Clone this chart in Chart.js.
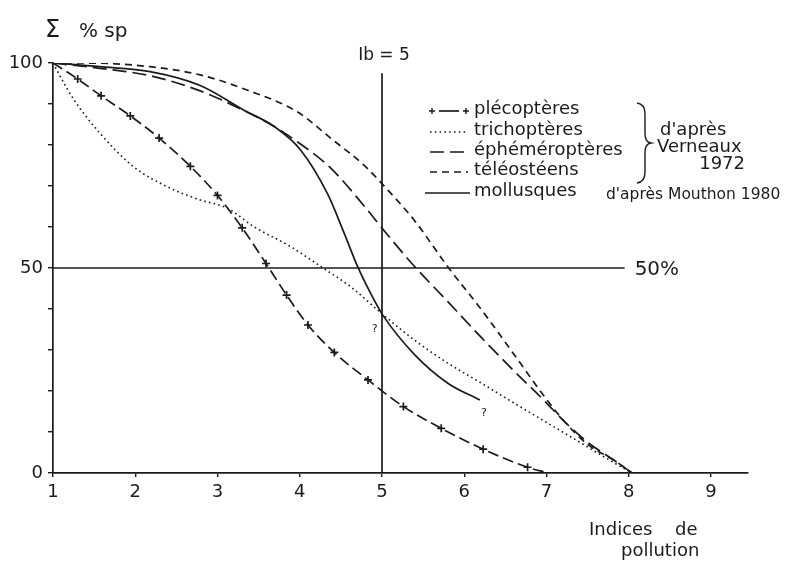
<!DOCTYPE html>
<html><head><meta charset="utf-8">
<script src="https://cdn.jsdelivr.net/npm/chart.js@4.4.1/dist/chart.umd.min.js"></script>
<style>html,body{margin:0;padding:0;background:#fff}#wrap{width:787px;height:561px;position:relative}</style>
</head><body><div id="wrap"><canvas id="c"></canvas></div>
<script>
// ---- data ----
const xTickValues = [1, 2, 3, 4, 5, 6, 7, 8, 9];
const yTickValues = [0, 10, 20, 30, 40, 50, 60, 70, 80, 90, 100];
const yLabelValues = [0, 50, 100];
const seriesNames = ['plécoptères', 'trichoptères', 'éphéméroptères', 'téléostéens', 'mollusques'];

const plecX = [1, 1.30, 1.585, 1.94, 2.29, 2.67, 3.00, 3.30, 3.59, 3.84, 4.10, 4.42, 4.83, 5.26, 5.72, 6.23, 6.77, 7.02];
const plecY = [100, 96.1, 92.0, 87.1, 81.7, 74.8, 67.7, 59.8, 51.1, 43.4, 36.1, 29.4, 22.7, 16.2, 10.9, 5.8, 1.4, 0];

const trichX = [1, 1.23, 1.57, 1.98, 2.39, 2.79, 3.12, 3.44, 3.89, 4.26, 4.62, 4.99, 5.39, 5.80, 6.21, 6.61, 7.02, 7.43, 7.83, 8.04];
const trichY = [100, 91.8, 82.9, 74.7, 69.8, 66.6, 64.6, 60.1, 55.2, 50.3, 45.4, 39.0, 32.5, 26.8, 21.9, 17.0, 12.1, 7.2, 2.4, 0];

const ephemX = [1, 1.57, 2.18, 2.79, 3.30, 3.69, 3.97, 4.38, 4.78, 5.03, 5.39, 5.80, 6.21, 6.61, 6.98, 7.22, 7.50, 7.83, 8.04];
const ephemY = [100, 98.7, 96.9, 93.2, 88.6, 84.5, 80.8, 74.3, 65.2, 59.0, 50.5, 41.8, 33.0, 24.8, 17.5, 12.5, 7.5, 3.0, 0];

const teleoX = [1, 1.37, 2.18, 2.79, 3.36, 3.97, 4.38, 4.78, 5.03, 5.39, 5.80, 6.21, 6.61, 6.98, 7.22, 7.50, 7.83, 8.04];
const teleoY = [100, 100, 99.1, 97.1, 93.4, 88.1, 81.6, 75.1, 69.9, 61.7, 50.3, 39.8, 28.8, 18.5, 12.5, 7.0, 3.0, 0];

const mollX = [1, 1.57, 2.18, 2.79, 3.32, 3.69, 4.01, 4.34, 4.54, 4.70, 4.87, 5.01, 5.39, 5.80, 6.19];
const mollY = [100, 99.1, 97.9, 94.5, 88.5, 84.5, 78.8, 68.0, 58.5, 50.5, 43.5, 38.5, 29.0, 21.9, 17.8];

const ibLineX = [5, 5];
const ibLineY = [0, 97.5];
const halfLineX = [1, 7.95];
const halfLineY = [50, 50];
const questionX = [4.91, 6.24];
const questionY = [35, 14.6];

// ---- chart ----
const ink = '#1b1b1b';
const FONT = "'DejaVu Sans', sans-serif";
Chart.defaults.font.family = FONT;
Chart.defaults.color = ink;

function pts(xs, ys) { return xs.map((x, i) => ({ x: x, y: ys[i] })); }
const base = {
  borderColor: ink, backgroundColor: ink, borderWidth: 1.7, fill: false,
  pointRadius: 0, cubicInterpolationMode: 'monotone', tension: 0.4
};
const styles = [
  { borderDash: [11, 5] },
  { borderDash: [1.6, 3.2], borderWidth: 1.6 },
  { borderDash: [14, 6] },
  { borderDash: [7, 5] },
  { borderDash: [] }
];
const seriesX = [plecX, trichX, ephemX, teleoX, mollX];
const seriesY = [plecY, trichY, ephemY, teleoY, mollY];
const datasets = seriesNames.map((n, i) => Object.assign({ label: n, data: pts(seriesX[i], seriesY[i]) }, base, styles[i]));
datasets[0].pointStyle = 'cross';
datasets[0].pointRadius = plecX.map((_, i) => (i === 0 || i === plecX.length - 1) ? 0 : 4);
datasets[0].pointBorderWidth = 1.7;
datasets[0].pointBorderColor = ink;
datasets.push(Object.assign({ label: 'Ib', data: pts(ibLineX, ibLineY) }, base, { tension: 0, borderDash: [] }));
datasets.push(Object.assign({ label: '50%', data: pts(halfLineX, halfLineY) }, base, { tension: 0, borderDash: [] }));

const annot = {
  id: 'annot',
  beforeDraw(chart) {
    const ctx = chart.ctx;
    ctx.save(); ctx.fillStyle = '#fff'; ctx.fillRect(0, 0, chart.width, chart.height); ctx.restore();
  },
  afterDraw(chart) {
    const ctx = chart.ctx, xs = chart.scales.x, ys = chart.scales.y;
    ctx.save();
    ctx.fillStyle = ink; ctx.strokeStyle = ink;
    ctx.textBaseline = 'middle';
    // y axis title
    ctx.textAlign = 'left';
    ctx.font = '24px ' + FONT;
    ctx.fillText('Σ', 45, 31);
    ctx.font = '20px ' + FONT;
    ctx.fillText('% sp', 79, 32);
    // Ib = 5
    ctx.font = '17px ' + FONT; ctx.textAlign = 'center';
    ctx.fillText('Ib = 5', xs.getPixelForValue(5) + 2, 56);
    // 50 %
    ctx.font = '20px ' + FONT; ctx.textAlign = 'left';
    ctx.fillText('50%', xs.getPixelForValue(halfLineX[1]) + 10, ys.getPixelForValue(50) + 2);
    // question marks
    ctx.font = '11px ' + FONT; ctx.textAlign = 'center';
    questionX.forEach((qx, i) => ctx.fillText('?', xs.getPixelForValue(qx), ys.getPixelForValue(questionY[i])));
    // x axis title
    ctx.font = '18px ' + FONT; ctx.textAlign = 'left';
    ctx.fillText('Indices', 589, 530);
    ctx.fillText('de', 675, 530);
    ctx.fillText('pollution', 621, 551);
    // legend
    const rowY = [111, 132, 152, 172, 193];
    const sx0 = 430, sx1 = 468;
    chart.data.datasets.slice(0, 5).forEach((ds, i) => {
      const y = rowY[i];
      ctx.save();
      ctx.lineWidth = ds.borderWidth; ctx.setLineDash(i === 0 ? [] : ds.borderDash);
      ctx.beginPath();
      if (i === 0) { ctx.moveTo(sx0 + 9, y); ctx.lineTo(sx1 - 9, y); }
      else if (i === 4) { ctx.moveTo(sx0 - 5, y); ctx.lineTo(sx1 + 2, y); }
      else { ctx.moveTo(sx0, y); ctx.lineTo(sx1, y); }
      ctx.stroke();
      if (i === 0) {
        ctx.lineWidth = 1.4;
        [sx0 + 2, sx1 - 2].forEach(px => {
          ctx.beginPath(); ctx.moveTo(px - 3, y); ctx.lineTo(px + 3, y);
          ctx.moveTo(px, y - 3); ctx.lineTo(px, y + 3); ctx.stroke();
        });
      }
      ctx.restore();
      ctx.font = '18px ' + FONT; ctx.textAlign = 'left';
      ctx.fillText(ds.label, 474, y - 2);
    });
    // brace
    ctx.lineWidth = 1.4; ctx.setLineDash([]);
    ctx.beginPath();
    ctx.moveTo(637, 103);
    ctx.quadraticCurveTo(645, 104, 645, 114);
    ctx.lineTo(645, 134);
    ctx.quadraticCurveTo(645, 142, 651, 143);
    ctx.quadraticCurveTo(645, 144, 645, 152);
    ctx.lineTo(645, 172);
    ctx.quadraticCurveTo(645, 182, 637, 183);
    ctx.stroke();
    ctx.font = '18px ' + FONT;
    ctx.textAlign = 'left';
    ctx.fillText("d'après", 660, 130);
    ctx.fillText('Verneaux', 657, 147);
    ctx.textAlign = 'right';
    ctx.fillText('1972', 745, 164);
    ctx.font = '15.5px ' + FONT; ctx.textAlign = 'left';
    ctx.fillText("d'après Mouthon 1980", 606, 195);
    ctx.restore();
  }
};

new Chart(document.getElementById('c'), {
  type: 'line',
  data: { datasets: datasets },
  options: {
    responsive: true, maintainAspectRatio: false, animation: false,
    layout: { padding: { left: 0, right: 39, top: 63, bottom: 0 } },
    plugins: { legend: { display: false }, tooltip: { enabled: false } },
    scales: {
      x: {
        type: 'linear', min: 1, max: 9.45,
        afterBuildTicks: s => { s.ticks = xTickValues.map(v => ({ value: v })); },
        afterFit: s => { s.height = 88; },
        grid: { drawOnChartArea: false, drawTicks: true, tickLength: 4, color: ink, lineWidth: 1.4 },
        border: { color: ink, width: 1.7 },
        ticks: { color: ink, font: { size: 18 }, padding: 5, maxRotation: 0, autoSkip: false }
      },
      y: {
        type: 'linear', min: 0, max: 100,
        afterBuildTicks: s => { s.ticks = yTickValues.map(v => ({ value: v })); },
        afterFit: s => { s.width = 53; },
        grid: { drawOnChartArea: false, drawTicks: true, tickLength: 5, color: ink, lineWidth: 1.4 },
        border: { color: ink, width: 1.7 },
        ticks: { color: ink, font: { size: 18 }, padding: 5, autoSkip: false,
                 callback: v => yLabelValues.includes(v) ? String(v) : '' }
      }
    }
  },
  plugins: [annot]
});
</script>
</body></html>
